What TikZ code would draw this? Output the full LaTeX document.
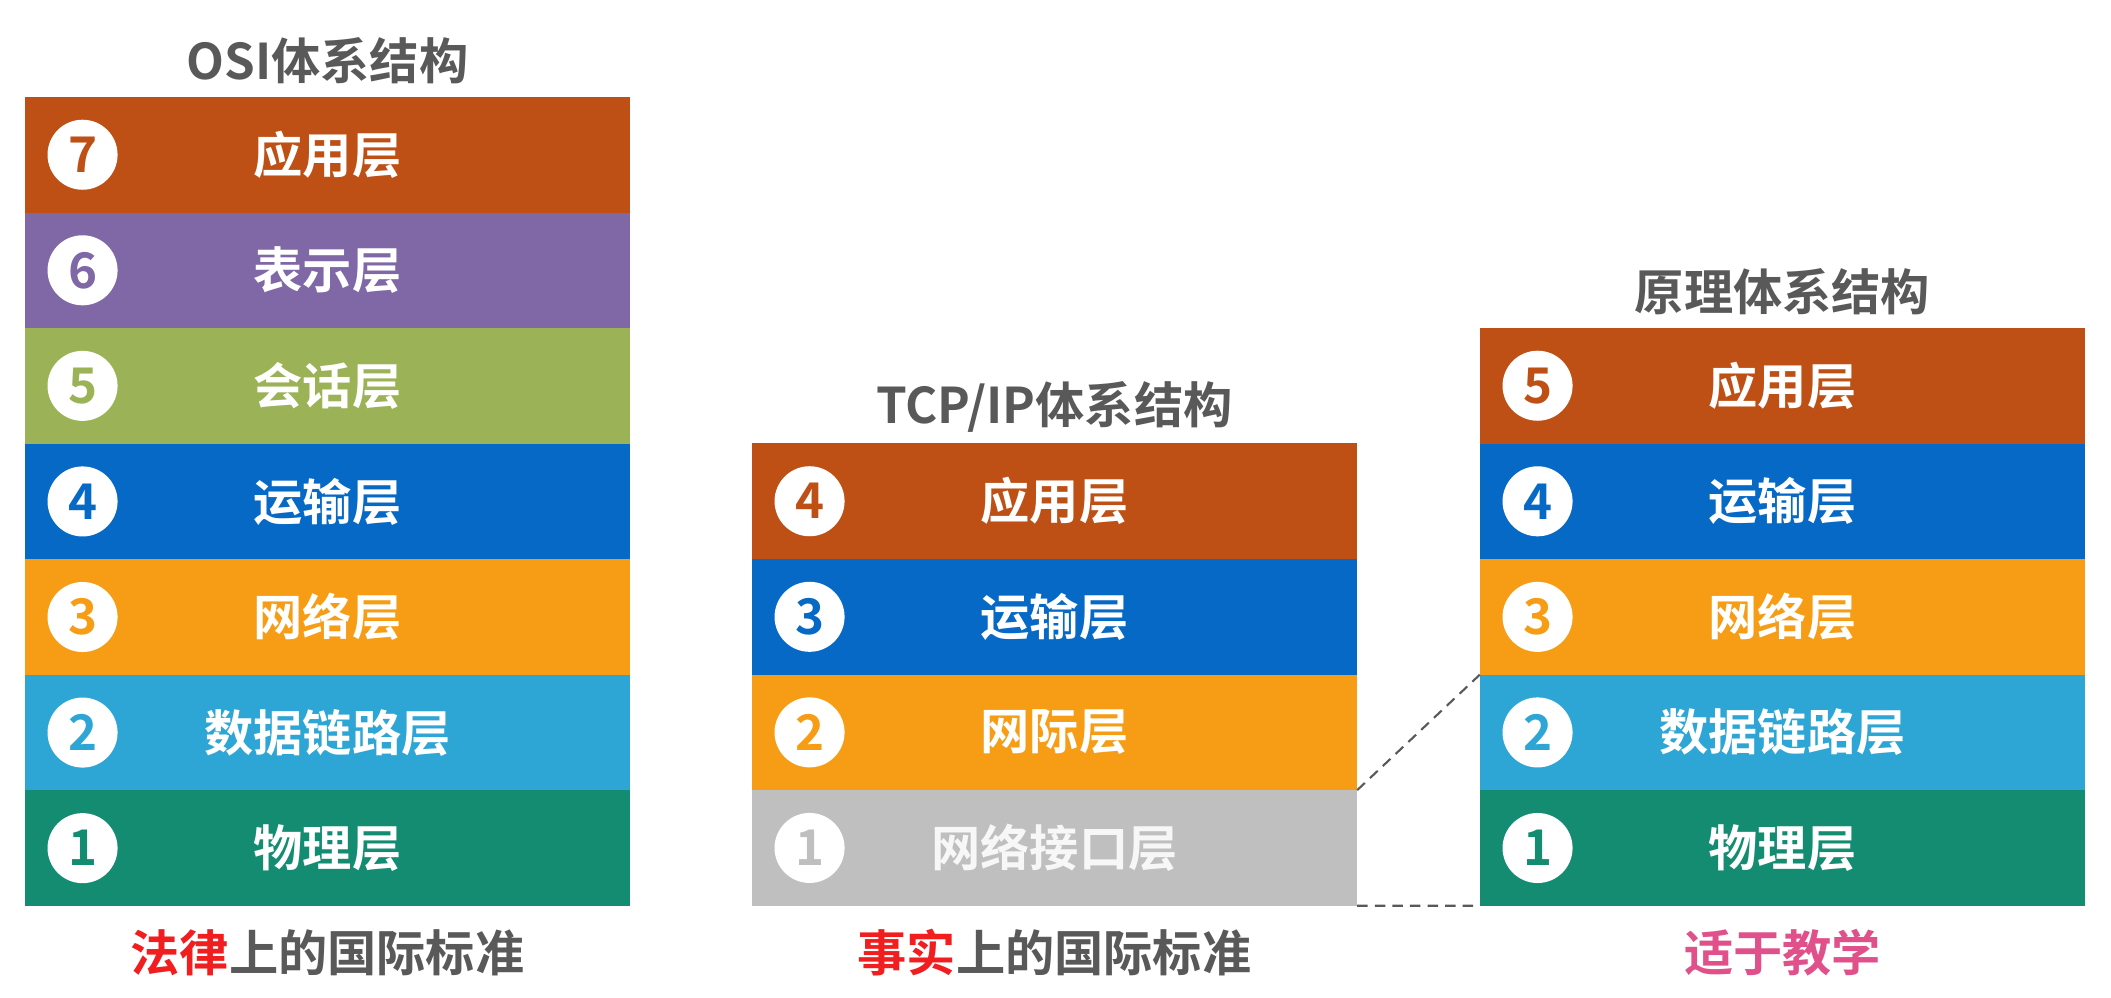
\documentclass[tikz,border=0pt]{standalone}
\usepackage{fontspec}
\newfontfamily\cjk{Noto Sans CJK SC}[BoldFont={Noto Sans CJK SC Bold}]
\usetikzlibrary{positioning}

\definecolor{appcol}{HTML}{BF5015}
\definecolor{precol}{HTML}{8068A6}
\definecolor{sescol}{HTML}{9BB356}
\definecolor{tracol}{HTML}{0769C6}
\definecolor{netcol}{HTML}{F69D15}
\definecolor{datcol}{HTML}{2EA6D5}
\definecolor{phycol}{HTML}{148C72}
\definecolor{ifccol}{HTML}{BFBFBF}
\definecolor{headgray}{HTML}{595959}
\definecolor{lawred}{HTML}{F01E1E}
\definecolor{teachpink}{HTML}{E0508A}

\tikzset{
  layer/.style={rectangle, minimum width=6.05cm, minimum height=1.155cm, inner sep=0pt, outer sep=0pt,
    text=white, font=\cjk\bfseries\fontsize{14}{14}\selectfont},
  numdot/.style={circle, fill=white, minimum size=0.7cm, inner sep=0pt,
    font=\cjk\bfseries\fontsize{14}{14}\selectfont},
  heading/.style={text=headgray, inner sep=0pt, font=\cjk\bfseries\fontsize{14}{14}\selectfont},
  linkline/.style={headgray, line width=0.6pt, dash pattern=on 3pt off 2pt},
}

\begin{document}
\begin{tikzpicture}[x=0.01cm, y=-0.01cm]

    \useasboundingbox (0,0) rectangle (2111,998);

    % OSI
    \node[heading] (osiT) at (327.5,61) {OSI体系结构};
    \node[layer, fill=appcol] (osi7) at (327.5,154.75) {应用层};
    \node[layer, fill=precol, below=0pt of osi7] (osi6) {表示层};
    \node[layer, fill=sescol, below=0pt of osi6] (osi5) {会话层};
    \node[layer, fill=tracol, below=0pt of osi5] (osi4) {运输层};
    \node[layer, fill=netcol, below=0pt of osi4] (osi3) {网络层};
    \node[layer, fill=datcol, below=0pt of osi3] (osi2) {数据链路层};
    \node[layer, fill=phycol, below=0pt of osi2] (osi1) {物理层};
    \foreach \i/\c in {7/appcol,6/precol,5/sescol,4/tracol,3/netcol,2/datcol,1/phycol}
        \node[numdot, text=\c, right=0.22cm of osi\i.west] (osin\i) {\i};
    \node[heading] (osiC) at (327.5,953) {\textcolor{lawred}{法律}上的国际标准};

    % TCP/IP
    \node[heading] (tcpT) at (1054.5,407) {TCP/IP体系结构};
    \node[layer, fill=appcol] (tcp4) at (1054.5,501.25) {应用层};
    \node[layer, fill=tracol, below=0pt of tcp4] (tcp3) {运输层};
    \node[layer, fill=netcol, below=0pt of tcp3] (tcp2) {网际层};
    \node[layer, fill=ifccol, text=white!97!black, below=0pt of tcp2] (tcp1) {网络接口层};
    \foreach \i/\c in {4/appcol,3/tracol,2/netcol,1/ifccol}
        \node[numdot, text=\c, right=0.22cm of tcp\i.west] (tcpn\i) {\i};
    \node[heading] (tcpC) at (1054.5,953) {\textcolor{lawred}{事实}上的国际标准};

    % principle
    \node[heading] (priT) at (1782.5,292) {原理体系结构};
    \node[layer, fill=appcol] (pri5) at (1782.5,385.75) {应用层};
    \node[layer, fill=tracol, below=0pt of pri5] (pri4) {运输层};
    \node[layer, fill=netcol, below=0pt of pri4] (pri3) {网络层};
    \node[layer, fill=datcol, below=0pt of pri3] (pri2) {数据链路层};
    \node[layer, fill=phycol, below=0pt of pri2] (pri1) {物理层};
    \foreach \i/\c in {5/appcol,4/tracol,3/netcol,2/datcol,1/phycol}
        \node[numdot, text=\c, right=0.22cm of pri\i.west] (prin\i) {\i};
    \node[heading, text=teachpink] (priC) at (1782.5,953) {适于教学};

    \draw[linkline] (tcp1.north east) -- (pri2.north west);
    \draw[linkline] (tcp1.south east) -- (pri1.south west);

\end{tikzpicture}
\end{document}
